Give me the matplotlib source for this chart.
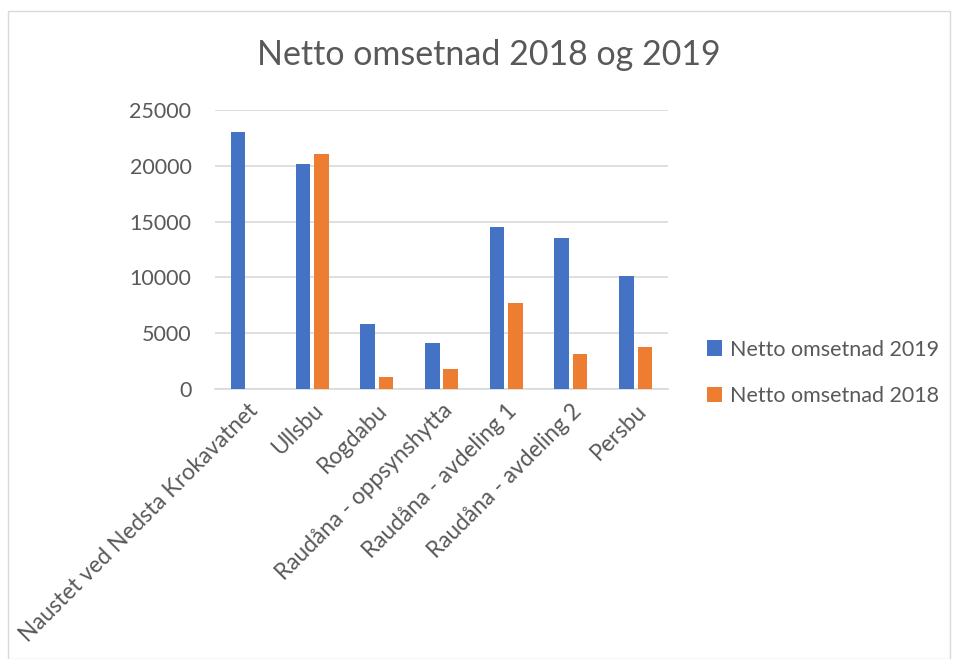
import matplotlib.pyplot as plt
import numpy as np

plt.rcParams['font.family'] = ['Lato', 'DejaVu Sans']

hytter = ['Naustet ved Nedsta Krokavatnet', 'Ullsbu', 'Rogdabu',
          'Raudåna - oppsynshytta', 'Raudåna - avdeling 1',
          'Raudåna - avdeling 2', 'Persbu']
netto_2019 = [23030, 20200, 5830, 4100, 14500, 13500, 10170]
netto_2018 = [0, 21100, 1100, 1800, 7700, 3140, 3740]
yticks = [0, 5000, 10000, 15000, 20000, 25000]

blue = '#4472C4'
orange = '#ED7D31'
grey = '#595959'

fig = plt.figure(figsize=(9.57, 6.59), dpi=100)
# ytre ramme
fig.add_artist(plt.Rectangle((8 / 957, 0.0), 942 / 957, 1 - 11 / 659,
                             transform=fig.transFigure, fill=False,
                             edgecolor='#D9D9D9', linewidth=1))

ax = fig.add_axes([215 / 957, 1 - 389 / 659, (668 - 215) / 957, (389 - 110) / 659])

x = np.arange(len(hytter))
w = 0.224
ax.bar(x - 0.142, netto_2019, w, color=blue, label='Netto omsetnad 2019', zorder=3)
ax.bar(x + 0.142, netto_2018, w, color=orange, label='Netto omsetnad 2018', zorder=3)

ax.set_xlim(-0.5, len(hytter) - 0.5)
ax.set_ylim(0, 25000)
ax.set_yticks(yticks)
ax.set_yticklabels([str(v) for v in yticks], fontsize=15.5, color=grey)
ax.yaxis.grid(True, color='#D9D9D9', linewidth=1.2, zorder=0)
ax.set_xticks(x)
ax.set_xticklabels(hytter, rotation=45, ha='right', rotation_mode='anchor',
                   fontsize=16.3, color=grey)
ax.tick_params(axis='both', length=0)
ax.tick_params(axis='y', pad=17)
ax.tick_params(axis='x', pad=8)
for s in ['top', 'right', 'left']:
    ax.spines[s].set_visible(False)
ax.spines['bottom'].set_color('#D9D9D9')
ax.spines['bottom'].set_linewidth(1.2)

fig.text(489 / 957, 1 - 55 / 659, 'Netto omsetnad 2018 og 2019', fontsize=24.5,
         color=grey, ha='center', va='center')

fig.legend(loc='center left', bbox_to_anchor=(688 / 957, 1 - 373 / 659),
           frameon=False, fontsize=15.5, handlelength=0.7, handleheight=0.7,
           handletextpad=0.35, labelspacing=1.25, labelcolor=grey)

fig.savefig('out.png', dpi=100)
